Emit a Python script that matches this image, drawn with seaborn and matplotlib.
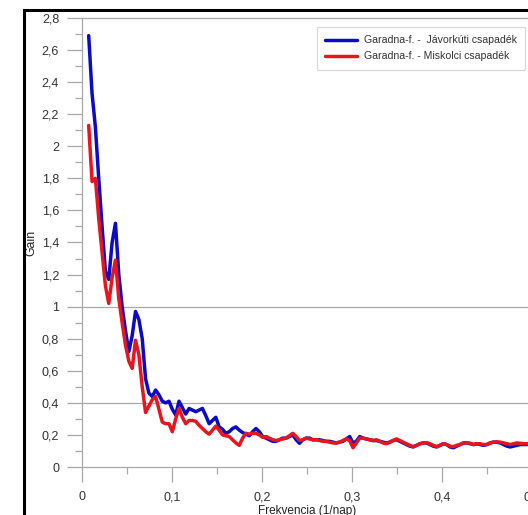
import numpy as np
import pandas as pd
import matplotlib
matplotlib.use("Agg")
import matplotlib.pyplot as plt
from matplotlib.patches import Rectangle
from matplotlib.ticker import FuncFormatter, MultipleLocator
import seaborn as sns

# ---- data ----
freq_index = np.arange(2, 135)          # spectral bins k
n_samples = 269                          # frequency = k / n_samples (1/nap)

jav_gain = [
    2.69, 2.33, 2.12, 1.80, 1.50, 1.22, 1.17, 1.40, 1.52, 1.20,
    1.00, 0.85, 0.72, 0.82, 0.97, 0.92, 0.80, 0.55, 0.46, 0.44,
    0.48, 0.45, 0.41, 0.40, 0.41, 0.36, 0.325, 0.41, 0.37, 0.33,
    0.365, 0.355, 0.345, 0.355, 0.365, 0.32, 0.27, 0.29, 0.31, 0.25,
    0.235, 0.21, 0.22, 0.24, 0.25, 0.23, 0.215, 0.205, 0.195, 0.22,
    0.24, 0.22, 0.19,
    0.18, 0.17, 0.16, 0.16, 0.17, 0.18, 0.18, 0.19, 0.20, 0.17,
    0.148, 0.17, 0.18, 0.18, 0.17, 0.17, 0.17, 0.165, 0.16, 0.16,
    0.155, 0.15, 0.155, 0.16, 0.175, 0.19, 0.15, 0.16, 0.19, 0.18,
    0.175, 0.17, 0.165, 0.165, 0.16, 0.155, 0.15, 0.155, 0.165, 0.17,
    0.16, 0.15, 0.14, 0.13, 0.125, 0.135, 0.145, 0.15, 0.15, 0.14,
    0.13, 0.125, 0.135, 0.145, 0.14, 0.125, 0.12, 0.13, 0.14, 0.15,
    0.15, 0.145, 0.14, 0.145, 0.14, 0.135, 0.14, 0.15, 0.155, 0.155,
    0.15, 0.14, 0.13, 0.125, 0.13, 0.135, 0.14, 0.14, 0.14, 0.145,
]

mis_gain = [
    2.13, 1.78, 1.80, 1.55, 1.34, 1.13, 1.02, 1.18, 1.29, 1.05,
    0.90, 0.76, 0.66, 0.615, 0.79, 0.70, 0.50, 0.34, 0.38, 0.42,
    0.44, 0.36, 0.28, 0.27, 0.27, 0.22, 0.30, 0.365, 0.31, 0.27,
    0.29, 0.29, 0.285, 0.26, 0.24, 0.22, 0.205, 0.23, 0.255, 0.23,
    0.20, 0.195, 0.19, 0.17, 0.15, 0.135, 0.18, 0.21, 0.205, 0.21,
    0.21, 0.20, 0.185,
    0.19, 0.18, 0.17, 0.165, 0.17, 0.175, 0.18, 0.195, 0.21, 0.19,
    0.165, 0.17, 0.18, 0.175, 0.17, 0.17, 0.165, 0.16, 0.16, 0.155,
    0.15, 0.15, 0.155, 0.165, 0.175, 0.165, 0.12, 0.15, 0.18, 0.18,
    0.175, 0.17, 0.165, 0.17, 0.16, 0.15, 0.145, 0.155, 0.165, 0.175,
    0.165, 0.155, 0.145, 0.135, 0.127, 0.135, 0.145, 0.15, 0.152, 0.145,
    0.135, 0.127, 0.135, 0.145, 0.14, 0.13, 0.127, 0.135, 0.14, 0.15,
    0.152, 0.148, 0.14, 0.145, 0.145, 0.14, 0.14, 0.15, 0.155, 0.157,
    0.155, 0.15, 0.145, 0.14, 0.145, 0.15, 0.148, 0.145, 0.145, 0.148,
]

series_names = ["Garadna-f. -  Jávorkúti csapadék", "Garadna-f. - Miskolci csapadék"]
series_colors = ["#0a0ac8", "#e8141e"]
ref_lines = [0.4, 1.0]
x_label = "Frekvencia (1/nap)"
y_label = "Gain"

freq = freq_index / n_samples
df = pd.concat([
    pd.DataFrame({"freq": freq, "gain": jav_gain, "series": series_names[0]}),
    pd.DataFrame({"freq": freq, "gain": mis_gain, "series": series_names[1]}),
])

# ---- style ----
sns.set_style("white")
plt.rcParams["font.family"] = ["Liberation Sans", "DejaVu Sans"]

W, H = 528, 515
fig = plt.figure(figsize=(W / 100, H / 100), dpi=100)
ax = fig.add_axes([82 / W, (H - 467) / H, 450 / W, 449 / H])

grid_c = "#a8a8a8"
for v in ref_lines:
    ax.axhline(v, color=grid_c, lw=0.9, zorder=0)

sns.lineplot(data=df, x="freq", y="gain", hue="series",
             palette=dict(zip(series_names, series_colors)),
             linewidth=2.5, ax=ax, legend=False, sort=False)

ax.set_xlim(0, 0.5)
ax.set_ylim(0, 2.8)

fmt = FuncFormatter(lambda v, p: f"{v:g}".replace(".", ","))
ax.xaxis.set_major_locator(MultipleLocator(0.1))
ax.xaxis.set_minor_locator(MultipleLocator(0.05))
ax.yaxis.set_major_locator(MultipleLocator(0.2))
ax.yaxis.set_minor_locator(MultipleLocator(0.1))
ax.xaxis.set_major_formatter(fmt)
ax.yaxis.set_major_formatter(fmt)

ax.tick_params(axis="both", which="major", direction="out", length=11,
               width=0.9, color=grid_c, labelsize=9, labelcolor="#333333",
               bottom=True, left=True)
ax.tick_params(axis="y", which="major", pad=5.5)
ax.tick_params(axis="x", which="major", pad=6.5)
ax.tick_params(axis="both", which="minor", direction="out", length=5,
               width=0.9, color=grid_c, bottom=True, left=True)

for s in ["left", "bottom", "top", "right"]:
    ax.spines[s].set_color(grid_c)
    ax.spines[s].set_linewidth(0.9)

ax.set_xlabel(x_label, fontsize=8.5, color="#222222")
ax.set_ylabel(y_label, fontsize=8.8, color="#222222")
ax.xaxis.set_label_coords(0.5, -(505 - 467) / 449)
ax.yaxis.set_label_coords(-(82 - 37) / 450, 0.5)

handles = [plt.Line2D([], [], color=c, lw=2.5) for c in series_colors]
leg = ax.legend(handles, series_names, loc="upper right",
                bbox_to_anchor=((525 - 82) / 450, (467 - 27) / 449),
                fontsize=7.6, frameon=True, fancybox=False, handlelength=3.0,
                handletextpad=0.65, labelspacing=0.55, borderpad=0.8,
                borderaxespad=0)
leg.get_frame().set_edgecolor("#d0d0d0")
leg.get_frame().set_linewidth(0.9)
for t in leg.get_texts():
    t.set_color("#333333")

# outer black frame (left and top edges visible)
fig.add_artist(Rectangle((24 / W, -0.2), 1.5, 1.2 - 10 / H,
                         transform=fig.transFigure, fill=False,
                         edgecolor="black", lw=2.2))

fig.savefig("out.png", dpi=100)
